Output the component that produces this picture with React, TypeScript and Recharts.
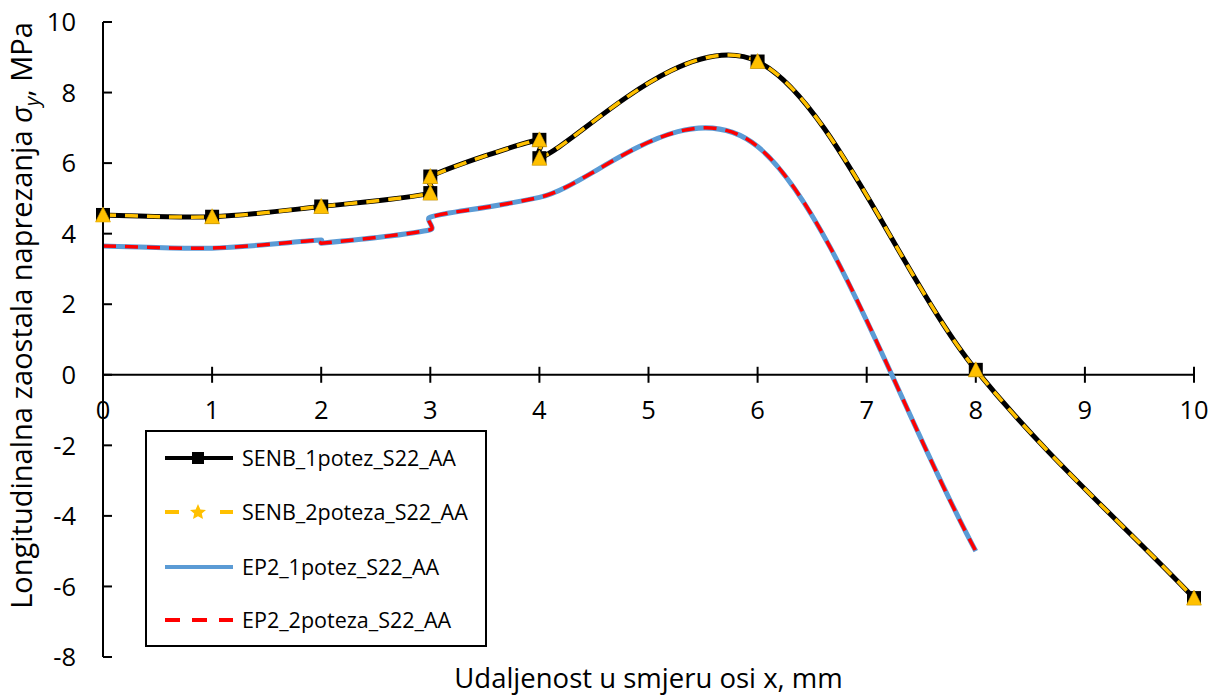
import React from 'react';
import { LineChart, Line, XAxis, YAxis, ReferenceLine, ReferenceDot, Legend } from 'recharts';

// ---------- data ----------
const senbX = [0, 1, 2, 3, 3, 4, 4, 6, 8, 10];
const senb1Y = [4.53, 4.48, 4.77, 5.15, 5.62, 6.66, 6.14, 8.88, 0.14, -6.33];
const senb2Y = [4.53, 4.48, 4.77, 5.15, 5.62, 6.66, 6.14, 8.88, 0.14, -6.33];
const ep2X = [0, 1, 2, 2, 3, 3, 4, 6, 8];
const ep21Y = [3.65, 3.59, 3.82, 3.73, 4.11, 4.47, 5.03, 6.47, -5.0];
const ep22Y = [3.65, 3.59, 3.82, 3.73, 4.11, 4.47, 5.03, 6.47, -5.0];
const xTicks = [0, 1, 2, 3, 4, 5, 6, 7, 8, 9, 10];
const yTicks = [-8, -6, -4, -2, 0, 2, 4, 6, 8, 10];
const seriesNames = ['SENB_1potez_S22_AA', 'SENB_2poteza_S22_AA', 'EP2_1potez_S22_AA', 'EP2_2poteza_S22_AA'];
const xTitle = 'Udaljenost u smjeru osi x, mm';
const yTitleMain = 'Longitudinalna zaostala naprezanja ';
const yTitleSym = 'σ';
const yTitleSub = 'y';
const yTitleEnd = ', MPa';

const toPoints = (xs: number[], ys: number[]) => xs.map((x, i) => ({ x, y: ys[i] }));
const senb1Data = toPoints(senbX, senb1Y);
const senb2Data = toPoints(senbX, senb2Y);
const ep21Data = toPoints(ep2X, ep21Y);
const ep22Data = toPoints(ep2X, ep22Y);

const FONT = "'Open Sans', sans-serif";
const YELLOW = '#FFC000';
const BLUE = '#5B9BD5';
const RED = '#FF0000';

const dist = (a: number[], b: number[]) => Math.hypot(a[0] - b[0], a[1] - b[1]);

// Excel-like smoothed line (cubic Bezier, control arms 1/6 of neighbour chord, capped at half the segment)
function excelCurve(context: any) {
  let pts: number[][] = [];
  return {
    areaStart() {},
    areaEnd() {},
    lineStart() {
      pts = [];
    },
    point(x: number, y: number) {
      pts.push([+x, +y]);
    },
    lineEnd() {
      const n = pts.length;
      if (n === 0) return;
      context.moveTo(pts[0][0], pts[0][1]);
      for (let i = 0; i < n - 1; i++) {
        const p0 = pts[i];
        const p1 = pts[i + 1];
        const pm = i > 0 ? pts[i - 1] : [2 * p0[0] - p1[0], 2 * p0[1] - p1[1]];
        const p2 = i + 2 < n ? pts[i + 2] : [2 * p1[0] - p0[0], 2 * p1[1] - p0[1]];
        const d12 = dist(p0, p1);
        const d02 = dist(pm, p1);
        const d13 = dist(p0, p2);
        let f1 = 1 / 6;
        let f2 = 1 / 6;
        if (d02 > 0 && d02 / 6 > d12 / 2) f1 = d12 / (2 * d02);
        if (d13 > 0 && d13 / 6 > d12 / 2) f2 = d12 / (2 * d13);
        const c1x = p0[0] + (p1[0] - pm[0]) * f1;
        const c1y = p0[1] + (p1[1] - pm[1]) * f1;
        const c2x = p1[0] - (p2[0] - p0[0]) * f2;
        const c2y = p1[1] - (p2[1] - p0[1]) * f2;
        context.bezierCurveTo(c1x, c1y, c2x, c2y, p1[0], p1[1]);
      }
    },
  };
}

const SquareDot = (p: any) => {
  if (p.cx == null || p.cy == null) return <g key={`s-${p.index}`} />;
  return <rect key={`s-${p.index}`} x={p.cx - 7} y={p.cy - 7} width={14} height={14} fill="#000" />;
};

const TriangleDot = (p: any) => {
  if (p.cx == null || p.cy == null) return <g key={`t-${p.index}`} />;
  const { cx, cy } = p;
  return (
    <polygon
      key={`t-${p.index}`}
      points={`${cx},${cy - 8} ${cx - 7.5},${cy + 7} ${cx + 7.5},${cy + 7}`}
      fill={YELLOW}
      stroke="#E0A800"
      strokeWidth={0.6}
    />
  );
};

const YTick = (p: any) => {
  const { x, y, payload } = p;
  return (
    <g>
      <line x1={x} x2={x + 9} y1={y} y2={y} stroke="#000" strokeWidth={2} />
      <text x={x - 27} y={y} dy="0.36em" textAnchor="end" fontFamily={FONT} fontSize={25.5} fill="#000">
        {payload.value}
      </text>
    </g>
  );
};

const XTickShape = (p: any) => {
  const { cx, cy, tickText } = p;
  if (cx == null || cy == null) return <g />;
  return (
    <g>
      <line x1={cx} x2={cx} y1={cy - 8} y2={cy + 8} stroke="#000" strokeWidth={2} />
      <text x={cx} y={cy + 35} dy="0.36em" textAnchor="middle" fontFamily={FONT} fontSize={25.5} fill="#000">
        {tickText}
      </text>
    </g>
  );
};

const XTitle = (p: any) => {
  const vb = p.viewBox || { x: 103, y: 657, width: 1091, height: 40 };
  return (
    <text x={vb.x + vb.width / 2} y={vb.y + 31} textAnchor="middle" fontFamily={FONT} fontSize={27.5} fill="#000">
      {xTitle}
    </text>
  );
};

const YTitle = (p: any) => {
  const vb = p.viewBox || { x: 0, y: 22, width: 103, height: 635 };
  const cx = 32;
  const cy = vb.y + vb.height / 2 - 24;
  return (
    <text
      x={cx}
      y={cy}
      textAnchor="middle"
      transform={`rotate(-90, ${cx}, ${cy})`}
      fontFamily={FONT}
      fontSize={29}
      fill="#000"
    >
      {yTitleMain}
      <tspan fontStyle="italic">{yTitleSym}</tspan>
      <tspan fontStyle="italic" fontSize={20} dy={7}>
        {yTitleSub}
      </tspan>
      <tspan dy={-7}>{yTitleEnd}</tspan>
    </text>
  );
};

const LegendSymbol = ({ i }: { i: number }) => {
  if (i === 0)
    return (
      <svg width={70} height={24}>
        <line x1={1} x2={69} y1={12} y2={12} stroke="#000" strokeWidth={4} />
        <rect x={28} y={6} width={12} height={12} fill="#000" />
      </svg>
    );
  if (i === 1)
    return (
      <svg width={70} height={24}>
        <line x1={1} x2={69} y1={12} y2={12} stroke={YELLOW} strokeWidth={4} strokeDasharray="14 41" />
        <polygon
          points="34,4 36.4,9.5 42,10 37.8,13.6 39,19 34,16.2 29,19 30.2,13.6 26,10 31.6,9.5"
          fill={YELLOW}
        />
      </svg>
    );
  if (i === 2)
    return (
      <svg width={70} height={24}>
        <line x1={1} x2={69} y1={12} y2={12} stroke={BLUE} strokeWidth={4} />
      </svg>
    );
  return (
    <svg width={70} height={24}>
      <line x1={1} x2={69} y1={12} y2={12} stroke={RED} strokeWidth={4} strokeDasharray="15 12" />
    </svg>
  );
};

const rowCenters = [28, 82, 137, 190];

const LegendBox = () => (
  <div
    style={{
      position: 'relative',
      width: 342,
      height: 217,
      boxSizing: 'border-box',
      border: '2px solid #000',
      background: '#fff',
      fontFamily: FONT,
    }}
  >
    {seriesNames.map((name, i) => (
      <div key={name} style={{ position: 'absolute', left: 17, top: rowCenters[i] - 14, height: 24, display: 'flex', alignItems: 'center' }}>
        <LegendSymbol i={i} />
        <span style={{ marginLeft: 8, fontSize: 21.5, lineHeight: '24px', color: '#000', whiteSpace: 'nowrap' }}>{name}</span>
      </div>
    ))}
  </div>
);

export default function App() {
  return (
    <div style={{ position: 'absolute', left: 0, top: 0, width: 1216, height: 697, background: '#fff' }}>
      <LineChart width={1216} height={697} margin={{ top: 22, right: 22, bottom: 0, left: 0 }}>
        <XAxis
          type="number"
          dataKey="x"
          domain={[0, 10]}
          ticks={xTicks}
          height={40}
          axisLine={false}
          tickLine={false}
          tick={false}
          label={<XTitle />}
        />
        <YAxis
          type="number"
          domain={[-8, 10]}
          ticks={yTicks}
          interval={0}
          width={103}
          axisLine={{ stroke: '#000', strokeWidth: 2 }}
          tickLine={false}
          tickSize={0}
          tickMargin={0}
          tick={<YTick />}
          label={<YTitle />}
          allowDataOverflow
        />
        <ReferenceLine y={0} stroke="#000" strokeWidth={2} />
        {xTicks.map((t) => (
          <ReferenceDot
            key={`xt-${t}`}
            x={t}
            y={0}
            r={0}
            ifOverflow="visible"
            shape={(p: any) => <XTickShape {...p} tickText={String(t)} />}
          />
        ))}
        <Line
          data={senb1Data}
          dataKey="y"
          name={seriesNames[0]}
          type={excelCurve as any}
          stroke="#000"
          strokeWidth={5}
          dot={SquareDot}
          activeDot={false}
          isAnimationActive={false}
        />
        <Line
          data={senb2Data}
          dataKey="y"
          name={seriesNames[1]}
          type={excelCurve as any}
          stroke={YELLOW}
          strokeWidth={3.5}
          strokeDasharray="13 9"
          dot={TriangleDot}
          activeDot={false}
          isAnimationActive={false}
        />
        <Line
          data={ep21Data}
          dataKey="y"
          name={seriesNames[2]}
          type={excelCurve as any}
          stroke={BLUE}
          strokeWidth={5}
          dot={false}
          activeDot={false}
          isAnimationActive={false}
        />
        <Line
          data={ep22Data}
          dataKey="y"
          name={seriesNames[3]}
          type={excelCurve as any}
          stroke={RED}
          strokeWidth={3.5}
          strokeDasharray="13 9"
          dot={false}
          activeDot={false}
          isAnimationActive={false}
        />
        <Legend
          layout="horizontal"
          verticalAlign="middle"
          align="center"
          content={() => <LegendBox />}
          wrapperStyle={{ left: 145, top: 430, width: 342, height: 217 }}
        />
      </LineChart>
    </div>
  );
}
